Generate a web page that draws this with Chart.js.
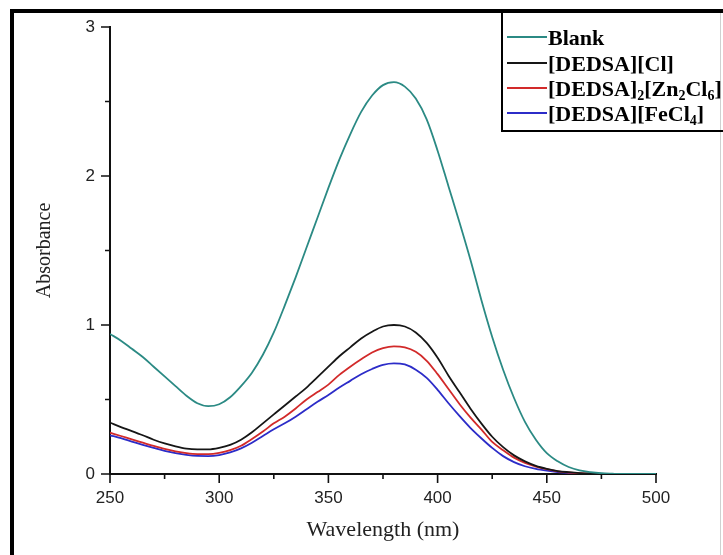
<!DOCTYPE html>
<html>
<head>
<meta charset="utf-8">
<script src="https://cdn.jsdelivr.net/npm/chart.js@4.4.1/dist/chart.umd.min.js"></script>
<style>
  body { margin: 0; background: #fff; }
  canvas { display: block; }
</style>
</head>
<body>
<canvas id="myChart" width="723" height="555"></canvas>
<script>
// wavelength in nm, every 5 nm
const wavelengths = [
  250, 255, 260, 265, 270, 275, 280, 285, 290, 295,
  300, 305, 310, 315, 320, 325, 330, 335, 340, 345,
  350, 355, 360, 365, 370, 375, 380, 385, 390, 395,
  400, 405, 410, 415, 420, 425, 430, 435, 440, 445,
  450, 455, 460, 465, 470, 475, 480, 485, 490, 495, 500
];
const blank = [
  0.94, 0.895, 0.84, 0.785, 0.72, 0.655, 0.59, 0.525, 0.475, 0.455,
  0.468, 0.515, 0.59, 0.68, 0.80, 0.95, 1.13, 1.32, 1.52, 1.72,
  1.92, 2.11, 2.28, 2.43, 2.54, 2.61, 2.63, 2.60, 2.52, 2.38,
  2.17, 1.93, 1.69, 1.44, 1.17, 0.92, 0.70, 0.51, 0.35, 0.23,
  0.14, 0.085, 0.047, 0.024, 0.012, 0.005, 0.002, 0, 0, 0, 0
];
const dedsaCl = [
  0.345, 0.315, 0.288, 0.26, 0.23, 0.205, 0.185, 0.17, 0.165, 0.165,
  0.175, 0.195, 0.23, 0.28, 0.34, 0.40, 0.46, 0.52, 0.58, 0.65,
  0.72, 0.79, 0.85, 0.91, 0.955, 0.99, 1.00, 0.99, 0.95, 0.88,
  0.78, 0.66, 0.55, 0.44, 0.34, 0.25, 0.18, 0.125, 0.085, 0.055,
  0.035, 0.02, 0.012, 0.006, 0.003, 0.001, 0, 0, 0, 0, 0
];
const dedsaZn = [
  0.277, 0.255, 0.232, 0.21, 0.188, 0.168, 0.152, 0.14, 0.134, 0.134,
  0.142, 0.16, 0.19, 0.235, 0.285, 0.34, 0.385, 0.44, 0.50, 0.55,
  0.60, 0.665, 0.72, 0.77, 0.815, 0.845, 0.857, 0.85, 0.82, 0.76,
  0.67, 0.57, 0.47, 0.38, 0.30, 0.215, 0.16, 0.11, 0.075, 0.05,
  0.032, 0.018, 0.01, 0.005, 0.002, 0, 0, 0, 0, 0, 0
];
const dedsaFe = [
  0.26, 0.24, 0.218, 0.196, 0.175, 0.155, 0.14, 0.128, 0.121, 0.12,
  0.127, 0.145, 0.172, 0.21, 0.255, 0.30, 0.34, 0.385, 0.435, 0.485,
  0.53, 0.58, 0.625, 0.67, 0.705, 0.733, 0.743, 0.735, 0.70, 0.645,
  0.565, 0.475, 0.39, 0.31, 0.24, 0.175, 0.12, 0.08, 0.052, 0.034,
  0.022, 0.013, 0.007, 0.003, 0.001, 0, 0, 0, 0, 0, 0
];
const seriesNames = ["Blank", "[DEDSA][Cl]", "[DEDSA]₂[Zn₂Cl₆]", "[DEDSA][FeCl₄]"];
const seriesColors = ["#2b8a84", "#161616", "#d22a2a", "#2c2cc8"];

const xTicks = [250, 300, 350, 400, 450, 500];
const xMinor = [275, 325, 375, 425, 475];
const yTicks = [0, 1, 2, 3];
const yMinor = [0.5, 1.5, 2.5];

function points(vals) {
  return wavelengths.map((w, i) => ({x: w, y: vals[i]}));
}

const datasets = [blank, dedsaCl, dedsaZn, dedsaFe].map((vals, i) => ({
  label: seriesNames[i],
  data: points(vals),
  borderColor: seriesColors[i],
  borderWidth: 1.8,
  pointRadius: 0,
  cubicInterpolationMode: 'monotone',
  fill: false
}));

const SUBS = "₀₁₂₃₄₅₆₇₈₉";

// draws a label, with unicode subscript digits set small and lowered
function drawRich(ctx, text, x, y, size) {
  const runs = [];
  for (const ch of text) {
    const d = SUBS.indexOf(ch);
    const sub = d >= 0;
    const c = sub ? String(d) : ch;
    if (runs.length && runs[runs.length - 1].sub === sub) runs[runs.length - 1].t += c;
    else runs.push({t: c, sub});
  }
  let cx = x;
  runs.forEach(r => {
    const s = r.sub ? Math.round(size * 0.62) : size;
    ctx.font = 'bold ' + s + 'px "Liberation Serif", "Times New Roman", serif';
    ctx.fillText(r.t, cx, r.sub ? y + size * 0.2 : y);
    cx += ctx.measureText(r.t).width;
  });
}

const extras = {
  id: 'extras',
  afterDraw(chart) {
    const ctx = chart.ctx;
    const xs = chart.scales.x, ys = chart.scales.y;
    ctx.save();

    // tick marks, pointing outwards
    ctx.strokeStyle = '#111';
    ctx.lineWidth = 1.6;
    ctx.beginPath();
    xTicks.forEach(v => { const p = xs.getPixelForValue(v); ctx.moveTo(p, ys.bottom); ctx.lineTo(p, ys.bottom + 9); });
    xMinor.forEach(v => { const p = xs.getPixelForValue(v); ctx.moveTo(p, ys.bottom); ctx.lineTo(p, ys.bottom + 5); });
    yTicks.forEach(v => { const p = ys.getPixelForValue(v); ctx.moveTo(xs.left, p); ctx.lineTo(xs.left - 9, p); });
    yMinor.forEach(v => { const p = ys.getPixelForValue(v); ctx.moveTo(xs.left, p); ctx.lineTo(xs.left - 5, p); });
    ctx.stroke();

    // outer frame
    ctx.strokeStyle = '#000';
    ctx.lineWidth = 4;
    ctx.beginPath();
    ctx.moveTo(12, 570);
    ctx.lineTo(12, 11);
    ctx.lineTo(723, 11);
    ctx.stroke();
    ctx.strokeStyle = '#d0d0d0';
    ctx.lineWidth = 1;
    ctx.beginPath();
    ctx.moveTo(720.5, 13);
    ctx.lineTo(720.5, 555);
    ctx.stroke();

    // legend box
    ctx.strokeStyle = '#000';
    ctx.lineWidth = 2;
    ctx.beginPath();
    ctx.moveTo(502, 11);
    ctx.lineTo(502, 131);
    ctx.lineTo(723, 131);
    ctx.stroke();

    const base = [45, 71, 96, 121];
    chart.data.datasets.forEach((ds, i) => {
      ctx.strokeStyle = ds.borderColor;
      ctx.lineWidth = 2;
      ctx.beginPath();
      ctx.moveTo(507, base[i] - 8);
      ctx.lineTo(547, base[i] - 8);
      ctx.stroke();
      ctx.fillStyle = '#000';
      ctx.textBaseline = 'alphabetic';
      ctx.textAlign = 'left';
      drawRich(ctx, ds.label, 548, base[i], 22);
    });
    ctx.restore();
  }
};

const tickFont = {family: '"Liberation Sans", Arial, sans-serif', size: 17};
const serif = '"Liberation Serif", "Times New Roman", serif';

new Chart(document.getElementById("myChart"), {
  type: "line",
  data: {datasets},
  options: {
    responsive: false,
    animation: false,
    layout: {padding: {left: 0, right: 67, top: 27, bottom: 0}},
    plugins: {
      legend: {display: false},
      tooltip: {enabled: false}
    },
    scales: {
      x: {
        type: 'linear',
        min: 250,
        max: 500,
        afterFit: s => { s.height = 81; },
        afterBuildTicks: s => { s.ticks = xTicks.map(v => ({value: v})); },
        grid: {display: false, drawTicks: false},
        border: {display: true, color: '#111', width: 2},
        ticks: {font: tickFont, color: '#222', padding: 14, maxRotation: 0},
        title: {display: true, text: 'Wavelength (nm)', font: {family: serif, size: 22}, color: '#222', padding: {top: 0, bottom: 12}}
      },
      y: {
        min: 0,
        max: 3,
        afterFit: s => { s.width = 110; },
        afterBuildTicks: s => { s.ticks = yTicks.map(v => ({value: v})); },
        grid: {display: false, drawTicks: false},
        border: {display: true, color: '#111', width: 2},
        ticks: {font: tickFont, color: '#222', padding: 15},
        title: {display: true, text: 'Absorbance', font: {family: serif, size: 20}, color: '#222', padding: {top: 33, bottom: 0}}
      }
    }
  },
  plugins: [extras]
});
</script>
</body>
</html>
